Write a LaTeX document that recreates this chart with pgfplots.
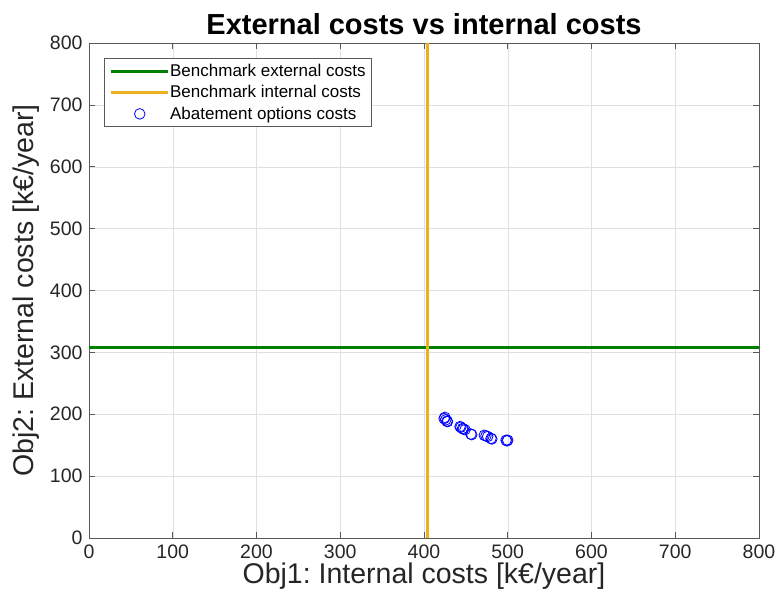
\documentclass[border=0pt]{standalone}
\usepackage{pgfplots}
\pgfplotsset{compat=1.18}
\usepackage{fontspec}
\setmainfont{Liberation Sans}
\frenchspacing
\definecolor{mgreen}{RGB}{0,128,0}
\definecolor{morange}{RGB}{237,177,32}
\pgfplotsset{
  lineleg/.style={legend image code/.code={\draw[##1] (0pt,0pt) -- (57pt,0pt);}},
  markleg/.style={legend image code/.code={\draw[##1] plot coordinates {(29pt,0pt)};}},
}
\begin{document}
\begin{tikzpicture}
\path[use as bounding box] (-89pt,-66pt) rectangle (689pt,538pt);
\begin{axis}[
  at={(0,0)}, anchor=south west,
  scale only axis,
  width=670pt, height=495pt,
  xmin=0, xmax=800, ymin=0, ymax=800,
  xtick={0,100,...,800}, ytick={0,100,...,800},
  grid=major,
  major grid style={draw=black!12},
  axis line style={draw=black!65, line width=0.7pt},
  tick style={draw=black!65, line width=0.7pt},
  tick align=inside,
  major tick length=6pt,
  /pgf/number format/assume math mode=true,
  ticklabel style={font=\fontsize{19.5}{22}\selectfont, text=black!85},
  xticklabel style={yshift=-3pt},
  yticklabel style={xshift=-3pt},
  title={\textbf{External costs vs internal costs}},
  title style={font=\fontsize{29}{31}\selectfont, yshift=-1pt},
  xlabel={Obj1: Internal costs [k€/year]},
  ylabel={Obj2: External costs [k€/year]},
  label style={font=\fontsize{28.5}{30}\selectfont, text=black!85},
  xlabel style={yshift=2pt},
  ylabel style={yshift=4pt},
  legend style={at={(15pt,480pt)}, anchor=north west, font=\fontsize{17}{19}\selectfont,
    draw=black!65, line width=0.7pt, row sep=5.5pt, inner xsep=5pt, inner ysep=5pt,
    nodes={inner sep=1pt}},
  legend cell align=left,
]
\addplot[mgreen, line width=2.5pt, lineleg] coordinates {(0,308) (800,308)};
\addlegendentry{Benchmark external costs}
\addplot[morange, line width=2.8pt, lineleg] coordinates {(404.4,0) (404.4,800)};
\addlegendentry{Benchmark internal costs}
\addplot[only marks, mark=o, mark size=5.3pt, blue, line width=0.8pt, markleg] coordinates {
(425,195) (424,193) (426,191) (427.5,189) (428,188)
(443,180) (444,179) (446,177) (447,176) (449,175)
(456,168) (457,167)
(472,166) (474,165) (476,164)
(480,161) (481,160)
(498,158) (499,157) (500,158)
};
\addlegendentry{Abatement options costs}
\end{axis}
\end{tikzpicture}
\end{document}
